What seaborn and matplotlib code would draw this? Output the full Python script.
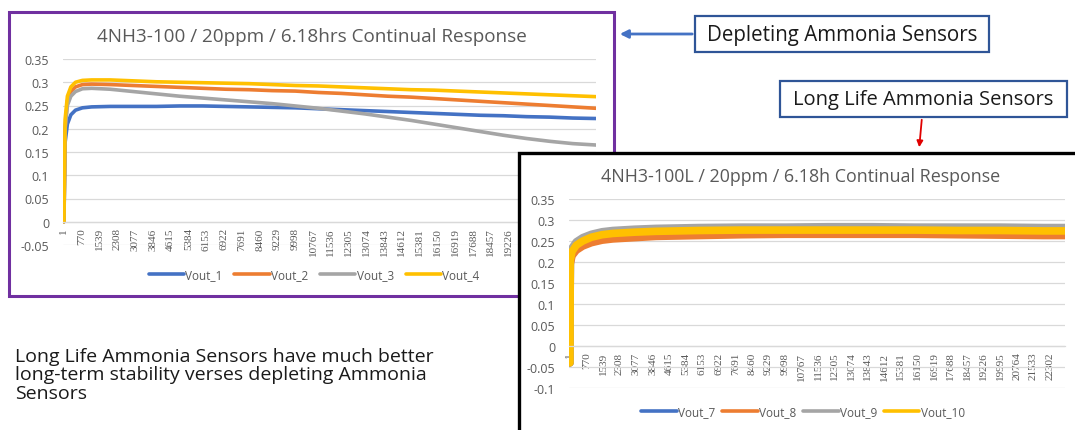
#two sensor response charts side by side, redrawn from slide
import numpy as np
import pandas as pd
import seaborn as sns
from matplotlib import pyplot as plt
from matplotlib.patches import Rectangle

sns.set_style("white")
plt.rcParams['font.family'] = ['Open Sans', 'DejaVu Sans']

# depleting sensors (left chart)
t_dep = [1, 50, 150, 300, 500, 800, 1200, 2000, 3000, 4000, 5000, 6000, 7000, 8000, 9000,
         10000, 11000, 12000, 13000, 14000, 15000, 16000, 17000, 18000, 19000, 20000, 21000, 22000, 23000]
vout_1 = [0, 0.17, 0.21, 0.23, 0.24, 0.245, 0.247, 0.248, 0.248, 0.248, 0.249, 0.249, 0.248, 0.247, 0.246,
          0.245, 0.243, 0.241, 0.239, 0.237, 0.235, 0.233, 0.231, 0.229, 0.228, 0.226, 0.225, 0.223, 0.222]
vout_2 = [0, 0.2, 0.26, 0.28, 0.29, 0.295, 0.296, 0.295, 0.293, 0.291, 0.289, 0.287, 0.285, 0.284, 0.282,
          0.281, 0.278, 0.276, 0.273, 0.270, 0.268, 0.265, 0.262, 0.259, 0.256, 0.253, 0.250, 0.247, 0.244]
vout_3 = [0, 0.2, 0.25, 0.27, 0.28, 0.286, 0.287, 0.285, 0.28, 0.275, 0.27, 0.266, 0.262, 0.258, 0.254,
          0.249, 0.244, 0.238, 0.232, 0.225, 0.218, 0.210, 0.202, 0.194, 0.186, 0.179, 0.173, 0.168, 0.165]
vout_4 = [0, 0.22, 0.27, 0.29, 0.30, 0.304, 0.305, 0.305, 0.303, 0.301, 0.300, 0.299, 0.298, 0.297, 0.295,
          0.293, 0.292, 0.290, 0.288, 0.286, 0.284, 0.283, 0.281, 0.279, 0.277, 0.275, 0.273, 0.271, 0.269]

# long life sensors (right chart)
t_long = [1, 20, 100, 300, 600, 1000, 1500, 2000, 3000, 4000, 6000, 8000, 10000, 12000, 14000,
          16000, 18000, 20000, 22000, 23000]
vout_7 = [-0.04, 0.2, 0.22, 0.235, 0.245, 0.253, 0.258, 0.262, 0.265, 0.267, 0.269, 0.270, 0.270, 0.270, 0.270,
          0.270, 0.269, 0.269, 0.268, 0.268]
vout_8 = [-0.04, 0.195, 0.215, 0.228, 0.238, 0.246, 0.252, 0.255, 0.258, 0.261, 0.263, 0.265, 0.266, 0.266, 0.266,
          0.266, 0.265, 0.264, 0.263, 0.263]
vout_9 = [-0.04, 0.215, 0.233, 0.248, 0.258, 0.266, 0.272, 0.275, 0.278, 0.280, 0.282, 0.283, 0.283, 0.284, 0.284,
          0.283, 0.283, 0.283, 0.282, 0.282]
vout_10 = [-0.04, 0.205, 0.225, 0.240, 0.250, 0.259, 0.265, 0.268, 0.271, 0.273, 0.275, 0.276, 0.276, 0.276, 0.276,
           0.276, 0.275, 0.275, 0.274, 0.274]

tick_labels = [1, 770, 1539, 2308, 3077, 3846, 4615, 5384, 6153, 6922, 7691, 8460, 9229, 9998, 10767,
               11536, 12305, 13074, 13843, 14612, 15381, 16150, 16919, 17688, 18457, 19226, 19995,
               20764, 21533, 22302]
y_dep = [-0.05, 0, 0.05, 0.1, 0.15, 0.2, 0.25, 0.3, 0.35]
y_long = [-0.1, -0.05, 0, 0.05, 0.1, 0.15, 0.2, 0.25, 0.3, 0.35]

colors = ['#4472C4', '#ED7D31', '#A5A5A5', '#FFC000']
W, H = 1075, 431


def fx(p):
    return p / W


def fy(p):
    return 1 - p / H


def longform(t, series):
    parts = []
    for name, vals in series.items():
        parts.append(pd.DataFrame({'t': t, 'v': vals, 'series': name}))
    return pd.concat(parts, ignore_index=True)


def style_chart(ax, yticks, xticks, title, tsize, tx, lx, colsp):
    for s in ['top', 'right', 'left']:
        ax.spines[s].set_visible(False)
    ax.spines['bottom'].set_position(('data', 0))  # resets ticks, so do it first
    ax.spines['bottom'].set_color('#D9D9D9')
    ax.spines['bottom'].set_linewidth(0.9)
    ax.set_ylim(yticks[0], yticks[-1])
    ax.set_xlim(-40, 23000)
    ax.set_yticks(yticks)
    ax.set_yticklabels([('%g' % y) for y in yticks])
    ax.set_xticks(xticks)
    ax.set_xticklabels([str(v) for v in xticks])
    ax.tick_params(length=0, labelcolor='#595959')
    ax.tick_params(axis='y', pad=10, labelsize=9)
    ax.tick_params(axis='x', pad=4, labelsize=8, labelrotation=90,
                   labelfontfamily='Liberation Serif')
    ax.grid(axis='y', color='#D9D9D9', lw=0.9)
    ax.set_xlabel('')
    ax.set_ylabel('')
    ax.set_title(title, x=tx, color='#595959', fontsize=tsize, pad=13)
    leg = ax.legend(loc='center', bbox_to_anchor=lx, ncol=4, frameon=False, fontsize=8.5,
                    labelcolor='#595959', handlelength=3, handletextpad=0.1, columnspacing=colsp)
    for h in leg.get_lines():
        h.set_linewidth(2.6)


fig = plt.figure(figsize=(W / 100, H / 100), dpi=100)

# left chart (labels past 19226 sit under the right chart anyway)
ax1 = fig.add_axes([fx(63), fy(246), (596 - 63) / W, (246 - 60) / H], zorder=0)
df1 = longform(t_dep, {'Vout_1': vout_1, 'Vout_2': vout_2, 'Vout_3': vout_3, 'Vout_4': vout_4})
sns.lineplot(data=df1, x='t', y='v', hue='series', palette=colors, lw=2.6, ax=ax1)
style_chart(ax1, y_dep, tick_labels[:26], '4NH3-100 / 20ppm / 6.18hrs Continual Response', 13.6,
            (312 - 63) / 533, ((314 - 63) / 533, (246 - 276) / 186), 1.0)
fig.add_artist(Rectangle((fx(9), fy(297)), (614 - 9) / W, (297 - 13) / H, transform=fig.transFigure,
                         fill=False, ec='#7030A0', lw=2.2, zorder=0.5))

# right chart sits on top of the left one
fig.add_artist(Rectangle((fx(519), fy(460)), 0.6, (460 - 154) / H, transform=fig.transFigure,
                         fc='white', ec='black', lw=2.4, zorder=1))
ax2 = fig.add_axes([fx(569), fy(389), (1065 - 569) / W, (389 - 200) / H], zorder=2)
ax2.set_facecolor('none')
df2 = longform(t_long, {'Vout_7': vout_7, 'Vout_8': vout_8, 'Vout_9': vout_9, 'Vout_10': vout_10})
sns.lineplot(data=df2, x='t', y='v', hue='series', palette=colors, lw=5.5, ax=ax2)
style_chart(ax2, y_long, tick_labels, '4NH3-100L / 20ppm / 6.18h Continual Response', 12.9,
            (801 - 569) / 496, ((803 - 569) / 496, (389 - 413) / 189), 0.6)

# callout boxes
fig.add_artist(Rectangle((fx(695), fy(53)), 294 / W, 36 / H, transform=fig.transFigure,
                         fc='white', ec='#2F5597', lw=1.6, zorder=3))
fig.text(fx(842), fy(35), 'Depleting Ammonia Sensors', ha='center', va='center',
         fontsize=14.8, color='#1a1a1a', zorder=4)
fig.add_artist(Rectangle((fx(780), fy(118)), 287 / W, 36 / H, transform=fig.transFigure,
                         fc='white', ec='#2F5597', lw=1.6, zorder=3))
fig.text(fx(923), fy(100), 'Long Life Ammonia Sensors', ha='center', va='center',
         fontsize=14.5, color='#1a1a1a', zorder=4)

fig.add_artist(plt.Annotation('', xy=(fx(617), fy(35)), xytext=(fx(695), fy(35)),
                              xycoords='figure fraction', textcoords='figure fraction',
                              arrowprops=dict(arrowstyle='-|>', color='#4472C4', lw=2,
                                              mutation_scale=12)))
fig.add_artist(plt.Annotation('', xy=(fx(919), fy(151)), xytext=(fx(922), fy(118)),
                              xycoords='figure fraction', textcoords='figure fraction',
                              arrowprops=dict(arrowstyle='-|>', color='#E00000', lw=1.3,
                                              mutation_scale=9)))

fig.text(fx(15), fy(348), 'Long Life Ammonia Sensors have much better\n'
         'long-term stability verses depleting Ammonia\nSensors',
         ha='left', va='top', fontsize=14, color='#1a1a1a', linespacing=1.02)

fig.savefig('out.png', dpi=100)
